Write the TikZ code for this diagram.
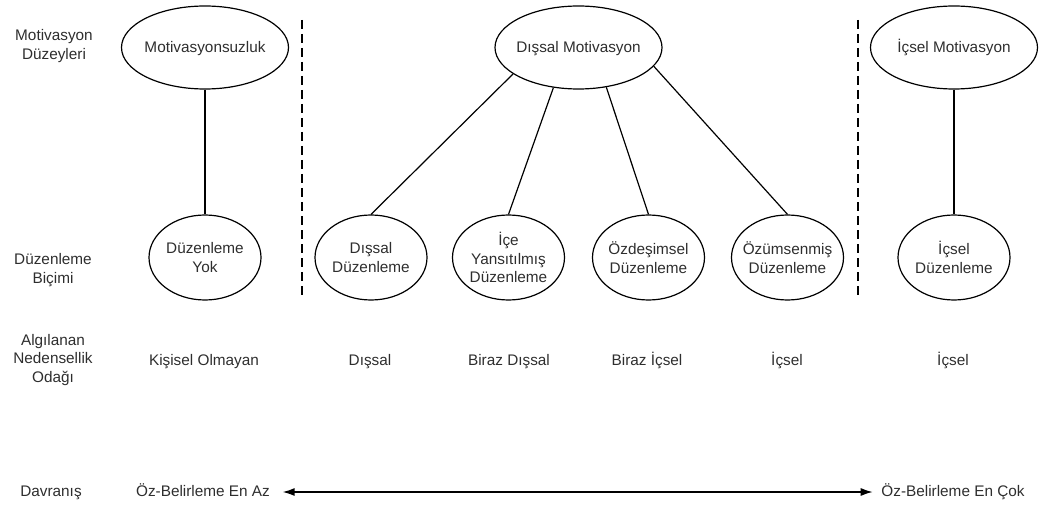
\documentclass[tikz,border=0pt]{standalone}
\usepackage{fontspec}
\setmainfont{Liberation Sans}
\usetikzlibrary{positioning,shapes.geometric,arrows.meta}

\begin{document}
\begin{tikzpicture}[x=0.75pt,y=-0.75pt,
  >={Latex[length=9pt,width=6pt]},
  every node/.style={font=\fontsize{11.5}{13.9}\selectfont, align=center, text=black!82},
  level/.style={draw=black, ellipse, line width=0.9pt, inner xsep=-6pt, inner ysep=0pt,
                minimum width=125.25pt, minimum height=62.25pt},
  form/.style={draw=black, ellipse, line width=0.9pt, inner xsep=-6pt, inner ysep=0pt,
               minimum width=84pt, minimum height=63.75pt},
  oneline/.style={text height=10pt, text depth=3pt},
  link/.style={line width=0.9pt},
  divider/.style={dash pattern=on 7pt off 3.5pt, line width=1.2pt}]
\useasboundingbox (0,0) rectangle (1042,506);

% row labels
\node (rMot) at (54,46) {Motivasyon\\Düzeyleri};
\node (rDuz) at (53,270) {Düzenleme\\Biçimi};
\node (rAlg) at (53,360) {Algılanan\\Nedensellik\\Odağı};
\node[oneline] (rDav) at (51,492) {Davranış};

% motivation levels
\node[level, oneline] (MS) at (205,47.5) {Motivasyonsuzluk};
\node[level, oneline] (DM) at (578.5,47.5) {Dışsal Motivasyon};
\node[level, oneline] (IM) at (954,47.5) {İçsel Motivasyon};

% regulation styles
\node[form] (DY) at (205,257.5) {Düzenleme\\Yok};
\node[form] (DD) at (371,257.5) {Dışsal\\Düzenleme};
\node[form] (ID) at (508.5,257.5) {İçe\\Yansıtılmış\\Düzenleme};
\node[form] (OD) at (648.5,257.5) {Özdeşimsel\\Düzenleme};
\node[form] (OZ) at (787.5,257.5) {Özümsenmiş\\Düzenleme};
\node[form] (IcD) at (954,257.5) {İçsel\\Düzenleme};

% perceived locus
\node[oneline] (kKO) at (204,361) {Kişisel Olmayan};
\node[oneline] (kDD) at (370,361) {Dışsal};
\node[oneline] (kBD) at (509,361) {Biraz Dışsal};
\node[oneline] (kBI) at (647,361) {Biraz İçsel};
\node[oneline] (kIO) at (787,361) {İçsel};
\node[oneline] (kIc) at (953,361) {İçsel};

% behaviour
\node[oneline] (AZ) at (203,492) {Öz-Belirleme En Az};
\node[oneline] (CK) at (953,492) {Öz-Belirleme En Çok};

\draw [divider] (302,20) -- (302,300);
\draw [divider] (858,20) -- (858,300);

\draw [link] (MS.south) -- (DY.north);
\draw [link] (DM.202) -- (DD.north);
\draw [link] (DM.238) -- (ID.north);
\draw [link] (DM.305) -- (OD.north);
\draw [link] (DM.346) -- (OZ.north);
\draw [link] (IM.south) -- (IcD.north);

\draw [<->, line width=1.1pt, shorten <=6pt, shorten >=3pt] (AZ) -- (CK);
\end{tikzpicture}
\end{document}
